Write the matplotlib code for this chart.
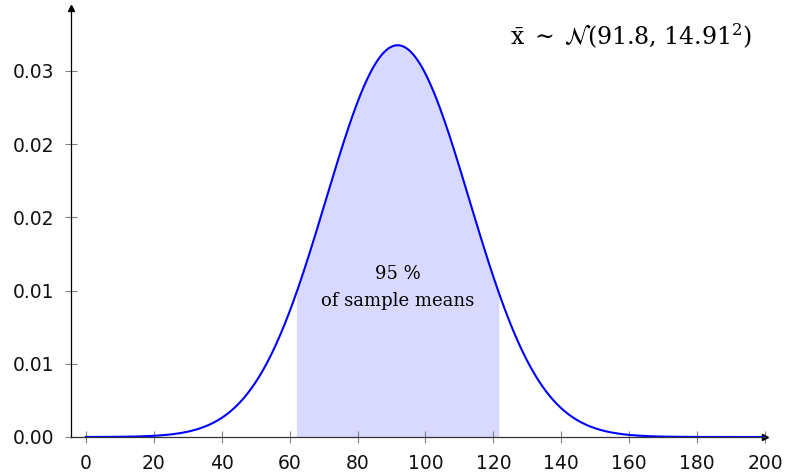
import numpy as np
import matplotlib.pyplot as plt

# distribution of the sample mean
mu = 91.8
sigma = 14.91
shade_k = 2.0  # shaded region: mu +/- 2 sigma

xticks = [0, 20, 40, 60, 80, 100, 120, 140, 160, 180, 200]
yticks = [0.0, 0.005, 0.010, 0.015, 0.020, 0.025]
ytick_labels = ['0.00', '0.01', '0.01', '0.02', '0.02', '0.03']


def curve(x):
    # the drawn bell: peak 1/(sigma*sqrt(2pi)), exponent uses 4*sigma^2
    return np.exp(-(x - mu) ** 2 / (4 * sigma ** 2)) / (sigma * np.sqrt(2 * np.pi))


plt.rcParams['mathtext.fontset'] = 'dejavuserif'

fig = plt.figure(figsize=(7.89, 4.72), dpi=100)
ax = fig.add_axes([71 / 789, 35 / 472, (765 - 71) / 789, (437 - 8) / 472])

x = np.linspace(0, 200, 800)
ax.plot(x, curve(x), color='#0000ff', lw=1.5, zorder=3)

xs = np.linspace(mu - shade_k * sigma, mu + shade_k * sigma, 400)
ax.fill_between(xs, 0, curve(xs), color='#d9d9ff', lw=0, zorder=1)

ax.set_xlim(-4.4, 200)
ax.set_ylim(0, 0.0293)

for s in ['top', 'right']:
    ax.spines[s].set_visible(False)
ax.spines['left'].set_linewidth(0.9)
ax.spines['left'].set_color('black')
ax.spines['bottom'].set_linewidth(0.9)
ax.spines['bottom'].set_color('#333333')

# arrow heads on the axis lines
ax.plot(1, 0, '>', color='black', ms=5, transform=ax.transAxes, clip_on=False)
ax.plot(0, 1, '^', color='black', ms=5, transform=ax.transAxes, clip_on=False)

ax.set_xticks(xticks)
ax.set_yticks(yticks)
ax.set_yticklabels(ytick_labels)
ax.tick_params(direction='inout', length=8, width=0.8, color='#808080',
               labelsize=13.5, pad=8)
for lab in ax.get_xticklabels() + ax.get_yticklabels():
    lab.set_family('DejaVu Sans')
    lab.set_color('#111111')

ax.text(0.981, 0.935, r'$\bar{\mathrm{x}}\;\sim\;\mathcal{N}(91.8,\,14.91^2)$',
        transform=ax.transAxes, ha='right', va='center', fontsize=17)

ax.text(mu, 0.0111, '95 %', ha='center', va='center', fontsize=13,
        family='DejaVu Serif', zorder=4)
ax.text(mu, 0.0093, 'of sample means', ha='center', va='center', fontsize=13,
        family='DejaVu Serif', zorder=4)

fig.savefig('out.png', dpi=100)
